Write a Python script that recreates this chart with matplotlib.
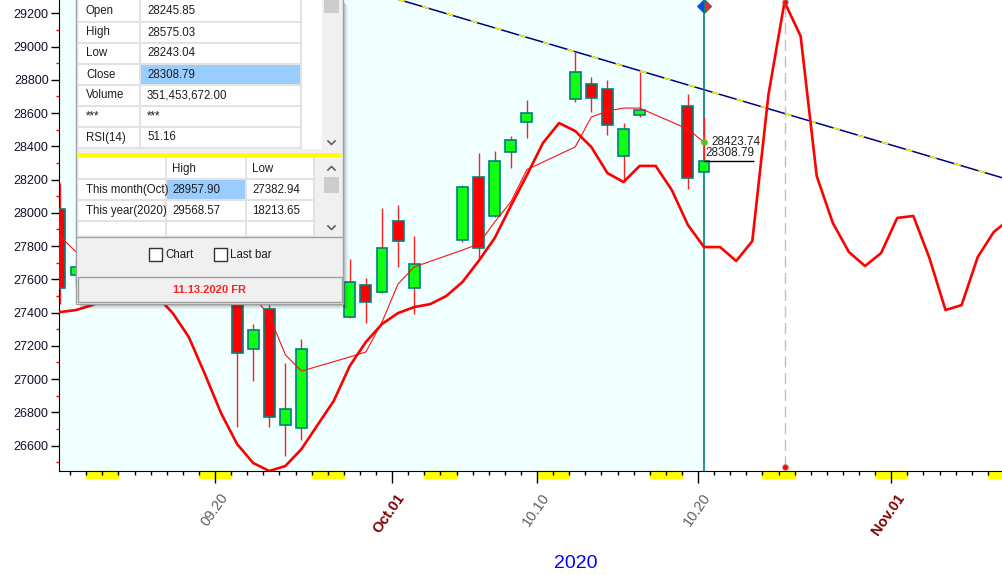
import numpy as np
import matplotlib
matplotlib.use("Agg")
import matplotlib.pyplot as plt
from matplotlib.patches import Rectangle
from matplotlib.transforms import offset_copy

plt.rcParams['font.family'] = ['Liberation Sans', 'DejaVu Sans']

# ---- data ----
bar_dates = ['2020-09-10', '2020-09-11', '2020-09-14', '2020-09-15', '2020-09-16',
             '2020-09-17', '2020-09-18', '2020-09-21', '2020-09-22', '2020-09-23',
             '2020-09-24', '2020-09-25', '2020-09-28', '2020-09-29', '2020-09-30',
             '2020-10-01', '2020-10-02', '2020-10-05', '2020-10-06', '2020-10-07',
             '2020-10-08', '2020-10-09', '2020-10-12', '2020-10-13', '2020-10-14',
             '2020-10-15', '2020-10-16', '2020-10-19', '2020-10-20']
opens = [28023, 27624, 27800, 28050, 28010, 27840, 27880, 27650, 27179, 27420,
         26722, 26704, 27371, 27564, 27525, 27951, 27546, 27836, 28217, 27983,
         28364, 28548, 28686, 28773, 28743, 28342, 28588, 28642, 28245.85]
highs = [28177, 27720, 28060, 28100, 28200, 28000, 27960, 27700, 27331, 27500,
         27098, 27239, 27720, 27610, 28027, 28047, 27860, 28167, 28362, 28374,
         28462, 28678, 28965, 28819, 28799, 28542, 28849, 28715, 28575.03]
lows = [27451, 27560, 27760, 27880, 27980, 27700, 27540, 26713, 26990, 26713,
        26537, 26633, 27365, 27339, 27516, 27672, 27389, 27826, 27726, 27973,
        28271, 28448, 28668, 28608, 28468, 28187, 28578, 28145, 28243.04]
closes = [27549, 27672, 27993, 27996, 28032, 27902, 27657, 27157, 27293, 26770,
          26818, 27179, 27586, 27462, 27786, 27830, 27690, 28153, 27788, 28310,
          28438, 28598, 28847, 28692, 28526, 28502, 28618, 28208, 28308.79]
avg_line = [27860, 27764, 27700, 27720, 27740, 27720, 27650, 27600, 27500, 27380,
            27146, 27048, 27133, 27163, 27343, 27572, 27674, 27776, 27812, 27945,
            28065, 28260, 28396, 28576, 28612, 28630, 28630, 28504, 28423.74]

# daily projection curve, 2020-09-10 .. 2020-11-08
curve_start = '2020-09-10'
curve_vals = [27403, 27415, 27445, 27488, 27518, 27530, 27500, 27397, 27253, 27030,
              26796, 26609, 26495, 26447, 26477, 26579, 26724, 26868, 27079, 27223,
              27331, 27397, 27433, 27451, 27500, 27584, 27710, 27848, 28041, 28227,
              28420, 28540, 28492, 28396, 28239, 28185, 28282, 28282, 28137, 27927,
              27794, 27794, 27710, 27830, 28709, 29268, 29063, 28221, 27939, 27764,
              27680, 27758, 27969, 27981, 27728, 27415, 27445, 27734, 27885, 27963]

trend_dates = ['2020-10-01', '2020-11-08']
trend_vals = [29284, 28197]

last_date = '2020-10-20'
peak_date = '2020-10-25'

tick_dates = ['2020-09-20', '2020-10-01', '2020-10-10', '2020-10-20', '2020-11-01']
tick_labels = ['09.20', 'Oct.01', '10.10', '10.20', 'Nov.01']
tick_colors = ['red', '#808080', 'red', 'red', 'red']
label_colors = ['#606060', '#800000', '#606060', '#606060', '#800000']
label_bold = [False, True, False, False, True]

info_labels = ['Open', 'High', 'Low', 'Close', 'Volume', '***', 'RSI(14)']
info_values = ['28245.85', '28575.03', '28243.04', '28308.79', '351,453,672.00', '***', '51.16']
range_rows = ['This month(Oct)', 'This year(2020)']
range_high = ['28957.90', '29568.57']
range_low = ['27382.94', '18213.65']

W, H = 1003, 575
base = np.datetime64(last_date, 'D')


def dn(s):
    return int((np.datetime64(s, 'D') - base).astype(int))


bar_x = np.array([dn(s) for s in bar_dates])
curve_x = dn(curve_start) + np.arange(len(curve_vals))

fig = plt.figure(figsize=(W / 100, H / 100), dpi=100)
ax = fig.add_axes([59 / W, 104 / H, 944 / W, 471 / H])
x0, x1 = -40.06, 18.57
y0, y1 = 26447, 29280
ax.set_facecolor('white')
ax.axvspan(x0, 0, color='#F0FFFF', zorder=0)
for s in ['top', 'right']:
    ax.spines[s].set_visible(False)
for s in ['left', 'bottom']:
    ax.spines[s].set_color('black')

# y axis
ax.set_yticks(np.arange(26600, 29201, 200))
ax.set_yticks(np.arange(26500, 29300, 200), minor=True)
ax.tick_params(axis='y', which='major', length=6, width=1, color='black',
               pad=1.5, labelsize=9, labelcolor='#101028')
ax.tick_params(axis='y', which='minor', length=2.5, width=1, color='red')

# x axis: ticks sit a bit left of each day
off = -0.37
ax.set_xticks([dn(s) + off for s in tick_dates])
ax.set_xticklabels([''] * len(tick_dates))
ax.set_xticks(np.arange(-40, 19) + off, minor=True)
ax.tick_params(axis='x', which='major', length=8.5, width=1)
ax.tick_params(axis='x', which='minor', length=3, width=1, color='black')
for t, c in zip(ax.xaxis.get_major_ticks(), tick_colors):
    t.tick1line.set_color(c)
ax.set_xlim(x0, x1)
ax.set_ylim(y0, y1)

xt = ax.get_xaxis_transform()
for s, lab, c, b in zip(tick_dates, tick_labels, label_colors, label_bold):
    tr = offset_copy(xt, fig=fig, x=10, y=-24, units='dots')
    ax.text(dn(s) + off, 0, lab, transform=tr, rotation=55, rotation_mode='anchor',
            ha='right', va='center', fontsize=10.5, color=c,
            fontweight='bold' if b else 'normal')

# weekend marks under the axis
all_days = np.datetime64(curve_start, 'D') + np.arange(-3, len(curve_vals) + 2)
for d in all_days:
    if (d - np.datetime64('1970-01-03', 'D')).astype(int) % 7 == 0:
        ax.add_patch(Rectangle((dn(d) + off, -7 / 471), 2, 7 / 471, transform=xt,
                               clip_on=False, color='#FFFF00', zorder=0.5))

# trend line, navy with yellow dashes
tx = [dn(s) for s in trend_dates]
ax.plot(tx, trend_vals, color='#000080', lw=1.1, zorder=2)
ax.plot(tx, trend_vals, color='#FFFF00', lw=1.1, dashes=(4.5, 12), zorder=2.1)

# candles
for x, o, h, l, c in zip(bar_x, opens, highs, lows, closes):
    ax.vlines(x, l, h, color='#FF2020', lw=1, zorder=3)
    fc = '#10FF10' if c >= o else '#FF0000'
    ax.add_patch(Rectangle((x - 0.34, min(o, c)), 0.68, abs(c - o), facecolor=fc,
                           edgecolor='#008080', lw=1.2, zorder=4))

ax.plot(bar_x, avg_line, color='#FF1010', lw=0.8, zorder=5)
ax.plot(curve_x, curve_vals, color='#FF0000', lw=1.9, zorder=5)

# last bar marker line
ax.axvline(0, ymax=0.988, color='#008080', lw=1.2, zorder=2.5)
ax.plot(0, 0.988, marker='D', ms=7, fillstyle='left', mfc='#1040FF', mfcalt='#FF2020',
        mec='#008080', mew=0.8, transform=xt, clip_on=False, zorder=6)
ax.plot(0, avg_line[-1], 'o', ms=4, mfc='#30D030', mec='#A0A000', mew=0.6, zorder=6)
ax.annotate(f'{avg_line[-1]:.2f}', (0, avg_line[-1]), xytext=(5, 0),
            textcoords='offset points', va='center', fontsize=8.5, color='#202020')
ax.hlines(closes[-1], 0, 3.1, color='black', lw=1, zorder=6)
ax.annotate(f'{closes[-1]:.2f}', (0, closes[-1]), xytext=(1, 6),
            textcoords='offset points', va='center', fontsize=8.5, color='#202020')

# peak marker
pk = dn(peak_date)
pv = curve_vals[list(curve_x).index(pk)]
ax.plot([pk, pk], [26471, pv], color='#C0C0C0', lw=1, dashes=(8, 4), zorder=1.5)
ax.plot([pk, pk], [26471, pv], 'o', ms=3.5, color='#FF0000', mec='#C04040',
        zorder=6, clip_on=False)

# ---- info panel overlay (pixel coordinates) ----
ov = fig.add_axes([0, 0, 1, 1], zorder=10)
ov.set_xlim(0, W)
ov.set_ylim(H, 0)
ov.axis('off')
ov.patch.set_alpha(0)

for i, a in enumerate([0.30, 0.22, 0.15, 0.09, 0.05]):
    ov.add_patch(Rectangle((343 + i, 2 + i), 1, 304, fc='black', alpha=a, lw=0))
    ov.add_patch(Rectangle((80, 304 + i), 263 + i, 1, fc='black', alpha=a, lw=0))
ov.add_patch(Rectangle((76, -2), 267, 306, fc='#F0F0F0', ec='#A0A0A0', lw=1))

# upper table
ov.add_patch(Rectangle((79, -1), 243, 150, fc='white', lw=0))
rows_y = [0, 21.5, 42.5, 63.5, 84.5, 105.5, 126.5, 147.5]
ov.add_patch(Rectangle((141, 64.5), 160, 19.5, fc='#99CCFF', lw=0))
for y in rows_y[1:]:
    ov.plot([79, 301], [y, y], color='#E2E2E2', lw=1.5)
for x in [140.5, 301]:
    ov.plot([x, x], [0, 147.5], color='#E2E2E2', lw=1.5)
for i, (lab, val) in enumerate(zip(info_labels, info_values)):
    yc = (rows_y[i] + rows_y[i + 1]) / 2 + 0.5
    ov.text(86, yc, lab, va='center', fontsize=8.3, color='#1E1E1E')
    ov.text(147, yc, val, va='center', fontsize=8.3, color='#1E1E1E')


def scrollbar(top, bottom, thumb, up=True):
    ov.add_patch(Rectangle((322, top), 19, bottom - top, fc='#F0F0F0', lw=0))
    ov.add_patch(Rectangle((324, thumb[0]), 15, thumb[1] - thumb[0], fc='#CDCDCD', lw=0))
    ov.plot([328, 331.5, 335], [bottom - 9, bottom - 5.5, bottom - 9], color='#606060', lw=1.2)
    if up:
        ov.plot([328, 331.5, 335], [top + 12, top + 8.5, top + 12], color='#606060', lw=1.2)


scrollbar(-1, 150, (-1, 13), up=False)

ov.add_patch(Rectangle((77, 152.5), 265, 4, fc='#FFFF00', lw=0))

# lower table
ov.add_patch(Rectangle((79, 158), 235, 77, fc='white', lw=0))
ov.add_patch(Rectangle((166.5, 180), 79, 20, fc='#99CCFF', lw=0))
for y in [179, 200, 221]:
    ov.plot([79, 314], [y, y], color='#E2E2E2', lw=1.5)
for x in [166, 246, 314]:
    ov.plot([x, x], [158, 235], color='#E2E2E2', lw=1.5)
ov.text(172, 169, 'High', va='center', fontsize=8.3, color='#1E1E1E')
ov.text(252, 169, 'Low', va='center', fontsize=8.3, color='#1E1E1E')
for i, (r, hv, lv) in enumerate(zip(range_rows, range_high, range_low)):
    yc = 190 + 21 * i
    ov.text(86, yc, r, va='center', fontsize=8.3, color='#1E1E1E')
    ov.text(172, yc, hv, va='center', fontsize=8.3, color='#1E1E1E')
    ov.text(252, yc, lv, va='center', fontsize=8.3, color='#1E1E1E')
scrollbar(158, 235, (177, 193))
ov.plot([77, 342], [236.5, 236.5], color='#A0A0A0', lw=1)

# check boxes
for bx, txt in [(149, 'Chart'), (214, 'Last bar')]:
    ov.add_patch(Rectangle((bx, 248), 13, 13, fc='white', ec='#333333', lw=1))
    ov.text(bx + 16, 255, txt, va='center', fontsize=8.3, color='#1E1E1E')

# date box
ov.add_patch(Rectangle((78, 277), 264, 25, fc='#F0F0F0', ec='#A0A0A0', lw=1))
ov.text(210, 290, '11.13.2020 FR', ha='center', va='center', fontsize=8,
        fontweight='bold', color='#FF2020')

fig.text(576 / W, 1 - 563 / H, '2020', color='#0000FF', fontsize=14,
         ha='center', va='center')

fig.savefig('out.png', dpi=100)
